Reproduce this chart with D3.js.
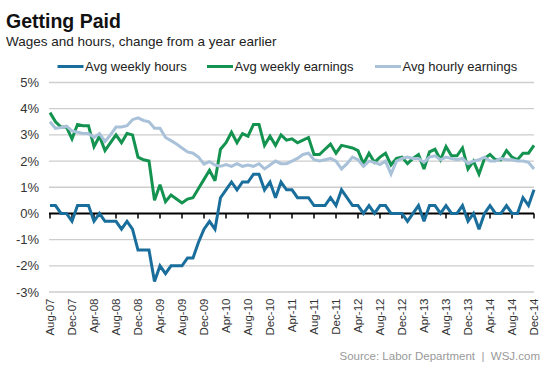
<!DOCTYPE html>
<html>
<head>
<meta charset="utf-8">
<script src="https://cdn.jsdelivr.net/npm/d3@7"></script>
<style>
  html, body { margin: 0; padding: 0; background: #fff; }
  svg { display: block; font-family: "Liberation Sans", Arial, Helvetica, sans-serif; }
</style>
</head>
<body>
<svg id="chart" width="553" height="369"></svg>
<script>
// ---- data (percent change from a year earlier, monthly Aug-07 .. Dec-14) ----
const months = d3.timeMonth.range(new Date(2007, 7, 1), new Date(2015, 0, 1)).map(d3.timeFormat("%b-%y"));

const weeklyHours = [
  0.3, 0.3, 0.0, 0.0, -0.3, 0.3, 0.3, 0.3, -0.3, 0.0,
  -0.3, -0.3, -0.3, -0.6, -0.3, -0.6, -1.4, -1.4, -1.4, -2.6,
  -2.0, -2.3, -2.0, -2.0, -2.0, -1.7, -1.7, -1.1, -0.6, -0.3,
  -0.6, 0.6, 0.9, 1.2, 0.9, 1.2, 1.2, 1.5, 1.5, 0.9,
  1.2, 0.6, 1.2, 0.9, 0.9, 0.6, 0.6, 0.6, 0.3, 0.3,
  0.3, 0.6, 0.3, 0.9, 0.6, 0.3, 0.3, 0.0, 0.3, 0.0,
  0.3, 0.3, 0.0, 0.0, 0.0, -0.3, 0.0, 0.3, -0.3, 0.3,
  0.3, 0.0, 0.3, 0.0, 0.0, 0.3, -0.3, 0.0, -0.6, 0.0,
  0.3, 0.0, 0.0, 0.3, 0.0, 0.0, 0.6, 0.3, 0.9
];

const weeklyEarnings = [
  3.85, 3.5, 3.3, 3.3, 2.85, 3.4, 3.35, 3.35, 2.55, 2.95,
  2.4, 2.7, 3.0, 2.7, 3.05, 3.0, 2.15, 2.05, 2.0, 0.5,
  1.1, 0.45, 0.7, 0.55, 0.4, 0.55, 0.6, 0.95, 1.3, 1.65,
  1.25, 2.45, 2.7, 3.1, 2.7, 3.05, 2.95, 3.4, 3.4, 2.6,
  2.95, 2.6, 3.0, 2.8, 2.85, 2.7, 2.8, 2.9, 2.25, 2.25,
  2.45, 2.65, 2.3, 2.6, 2.55, 2.5, 2.4, 1.9, 2.3, 1.95,
  2.15, 2.3, 1.85, 2.1, 2.15, 1.9, 2.1, 2.25, 1.7, 2.35,
  2.45, 2.05, 2.55, 2.2, 2.2, 2.5, 1.7, 2.0, 1.5, 2.1,
  2.25, 2.05, 2.05, 2.4, 2.15, 2.05, 2.3, 2.3, 2.6
];

const hourlyEarnings = [
  3.5, 3.25, 3.28, 3.33, 3.15, 3.1, 3.05, 3.05, 2.9, 3.05,
  2.75, 3.0, 3.3, 3.3, 3.35, 3.58, 3.65, 3.55, 3.5, 3.25,
  3.25, 2.9, 2.78, 2.65, 2.5, 2.35, 2.3, 2.15, 1.88, 1.98,
  1.85, 1.8, 1.87, 1.8, 1.9, 1.8, 1.85, 1.8, 1.9, 1.7,
  1.85, 2.0, 1.9, 1.9, 2.0, 2.1, 2.25, 2.3, 2.05, 2.0,
  2.05, 2.1, 2.0, 1.7, 1.9, 2.15, 2.05, 1.8, 2.0, 1.95,
  1.87, 2.0, 1.5, 2.0, 2.1, 2.15, 2.1, 2.1, 1.95, 2.15,
  2.2, 2.05, 2.15, 2.1, 2.05, 2.1, 1.9, 2.0, 2.05, 2.15,
  2.0, 2.0, 2.1, 2.05, 2.05, 2.0, 2.0, 1.95, 1.7
];

const xTickLabels = ["Aug-07","Dec-07","Apr-08","Aug-08","Dec-08","Apr-09","Aug-09","Dec-09",
  "Apr-10","Aug-10","Dec-10","Apr-11","Aug-11","Dec-11","Apr-12","Aug-12","Dec-12",
  "Apr-13","Aug-13","Dec-13","Apr-14","Aug-14","Dec-14"];
const yTicks = [-3, -2, -1, 0, 1, 2, 3, 4, 5];

const seriesNames = ["Avg weekly hours", "Avg weekly earnings", "Avg hourly earnings"];
const seriesColors = ["#1a6e9c", "#13934f", "#a9c1d9"];

// ---- drawing ----
const svg = d3.select("#chart");
const x = d3.scalePoint().domain(months).range([50, 534]);
const y = d3.scaleLinear().domain([-3, 5]).range([292, 82.5]);

// title
svg.append("text").attr("x", 6).attr("y", 28).attr("font-size", 19.5).attr("font-weight", "bold")
  .attr("fill", "#111").text("Getting Paid");
svg.append("text").attr("x", 6).attr("y", 46).attr("font-size", 13.5).attr("fill", "#222")
  .text("Wages and hours, change from a year earlier");

// legend
const legendX = [57.5, 207, 375];
seriesNames.forEach((name, i) => {
  const g = svg.append("g").attr("transform", `translate(${legendX[i]},66.5)`);
  g.append("line").attr("x1", 0).attr("x2", 26).attr("y1", 0).attr("y2", 0)
    .attr("stroke", seriesColors[i]).attr("stroke-width", 3);
  g.append("text").attr("x", 27.5).attr("dy", "0.35em").attr("font-size", 13).attr("fill", "#222").text(name);
});

// grid
const xl = 49, xr = 534;
svg.append("g").selectAll("line").data(yTicks.filter(d => d !== 0)).join("line")
  .attr("x1", xl).attr("x2", xr).attr("y1", d => y(d)).attr("y2", d => y(d))
  .attr("stroke", "#cdcdcd").attr("stroke-width", 1.3);

// y labels
svg.append("g").selectAll("text").data(yTicks).join("text")
  .attr("x", 39).attr("y", d => y(d)).attr("dy", "0.35em").attr("text-anchor", "end")
  .attr("font-size", 13).attr("fill", "#333").text(d => d + "%");

// zero axis with ticks
svg.append("line").attr("x1", xl).attr("x2", xr).attr("y1", y(0)).attr("y2", y(0))
  .attr("stroke", "#000").attr("stroke-width", 2);
svg.append("g").selectAll("line").data(xTickLabels).join("line")
  .attr("x1", d => x(d)).attr("x2", d => x(d)).attr("y1", y(0)).attr("y2", y(0) + 5)
  .attr("stroke", "#000").attr("stroke-width", 1.5);

// x labels
svg.append("g").selectAll("text").data(xTickLabels).join("text")
  .attr("transform", d => `translate(${x(d)},298.5) rotate(-90)`)
  .attr("text-anchor", "end").attr("dy", "0.35em").attr("font-size", 11.5).attr("fill", "#333")
  .text(d => d);

// lines
const line = d3.line().x((d, i) => x(months[i])).y(d => y(d)).curve(d3.curveLinear);
[weeklyHours, weeklyEarnings, hourlyEarnings].forEach((s, i) => {
  svg.append("path").datum(s).attr("d", line).attr("fill", "none")
    .attr("stroke", seriesColors[i]).attr("stroke-width", 3)
    .attr("stroke-linejoin", "miter").attr("stroke-miterlimit", 3);
});

// source
svg.append("text").attr("x", 540).attr("y", 359.5).attr("text-anchor", "end")
  .attr("font-size", 11.5).attr("fill", "#999").style("white-space", "pre")
  .text("Source: Labor Department  |  WSJ.com");
</script>
</body>
</html>
